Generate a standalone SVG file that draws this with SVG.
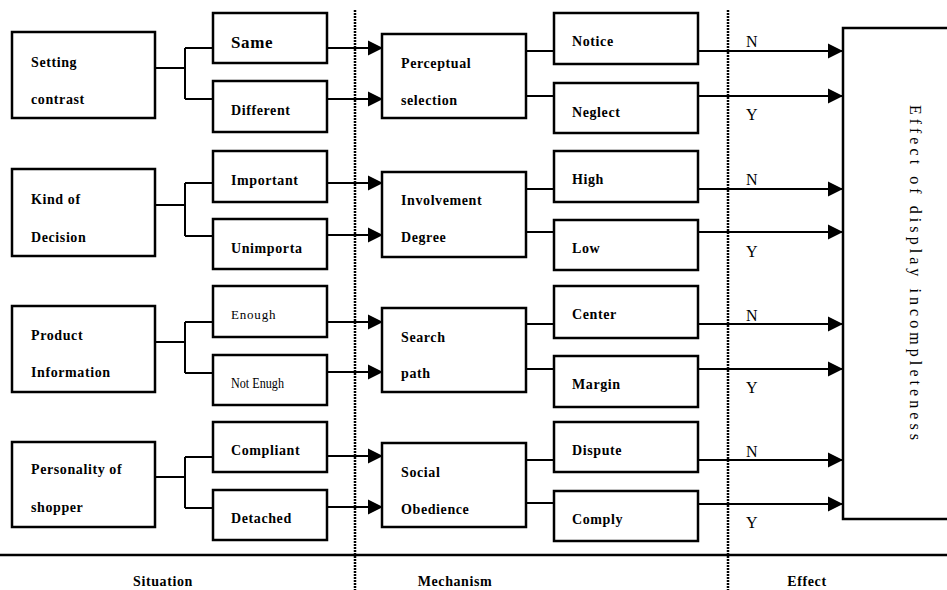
<svg xmlns="http://www.w3.org/2000/svg" width="947" height="590" viewBox="0 0 947 590">
<style>
.box{fill:#fff;stroke:#000;stroke-width:2.5}
.ln{fill:none;stroke:#000;stroke-width:2}
.ar{fill:none;stroke:#000;stroke-width:2;marker-end:url(#ah)}
.dot{fill:none;stroke:#000;stroke-width:2.5;stroke-dasharray:2 1}
.b{font-family:"Liberation Serif","Times New Roman",serif;font-weight:bold;font-size:14px;letter-spacing:0.6px;fill:#000}
.r{font-family:"Liberation Serif","Times New Roman",serif;font-size:13px;letter-spacing:0.8px;fill:#000}
.yn{font-family:"Liberation Serif","Times New Roman",serif;font-size:16px;fill:#000}
.vt{font-family:"Liberation Serif","Times New Roman",serif;font-size:16px;fill:#000}
</style>
<defs>
<marker id="ah" markerUnits="userSpaceOnUse" markerWidth="16" markerHeight="16" viewBox="0 0 16 16" refX="15" refY="8" orient="auto">
<path d="M0,0.5 L15,8 L0,15.5 z" fill="#000"/>
</marker>
</defs>
<rect width="947" height="590" fill="#fff"/>

<g id="dividers">
<line class="dot" x1="355" y1="10" x2="355" y2="590"/>
<line class="dot" x1="728" y1="10" x2="728" y2="590"/>
<line x1="0" y1="555" x2="947" y2="555" stroke="#000" stroke-width="2.5"/>
</g>

<g id="connectors">
<path class="ln" d="M155,68 H185 M185,48 V99 M185,48 H213 M185,99 H213"/>
<path class="ln" d="M155,205 H185 M185,183 V236 M185,183 H213 M185,236 H213"/>
<path class="ln" d="M155,342 H185 M185,322 V373 M185,322 H213 M185,373 H213"/>
<path class="ln" d="M155,477 H185 M185,457 V508 M185,457 H213 M185,508 H213"/>
<line class="ar" x1="327" y1="48" x2="383" y2="48"/>
<line class="ar" x1="327" y1="99" x2="383" y2="99"/>
<line class="ar" x1="327" y1="183" x2="383" y2="183"/>
<line class="ar" x1="327" y1="235" x2="383" y2="235"/>
<line class="ar" x1="327" y1="322" x2="383" y2="322"/>
<line class="ar" x1="327" y1="372" x2="383" y2="372"/>
<line class="ar" x1="327" y1="456" x2="383" y2="456"/>
<line class="ar" x1="327" y1="507" x2="383" y2="507"/>
<path class="ln" d="M526,51 H554 M526,96 H554 M526,189 H554 M526,232 H554 M526,324 H554 M526,369 H554 M526,460 H554 M526,503 H554"/>
<line class="ar" x1="698" y1="51" x2="843" y2="51"/>
<line class="ar" x1="698" y1="96" x2="843" y2="96"/>
<line class="ar" x1="698" y1="189" x2="843" y2="189"/>
<line class="ar" x1="698" y1="232" x2="843" y2="232"/>
<line class="ar" x1="698" y1="324" x2="843" y2="324"/>
<line class="ar" x1="698" y1="369" x2="843" y2="369"/>
<line class="ar" x1="698" y1="460" x2="843" y2="460"/>
<line class="ar" x1="698" y1="504" x2="843" y2="504"/>
<text class="yn" x="746" y="47">N</text>
<text class="yn" x="746" y="120">Y</text>
<text class="yn" x="746" y="185">N</text>
<text class="yn" x="746" y="257">Y</text>
<text class="yn" x="746" y="321">N</text>
<text class="yn" x="746" y="393">Y</text>
<text class="yn" x="746" y="457">N</text>
<text class="yn" x="746" y="528">Y</text>
</g>

<g id="setting-contrast"><rect class="box" x="12" y="32" width="143" height="86"/><text class="b" x="31" y="67">Setting</text><text class="b" x="31" y="104">contrast</text></g>
<g id="kind-of-decision"><rect class="box" x="12" y="169" width="143" height="87"/><text class="b" x="31" y="204">Kind of</text><text class="b" x="31" y="242">Decision</text></g>
<g id="product-information"><rect class="box" x="12" y="306" width="143" height="86"/><text class="b" x="31" y="340">Product</text><text class="b" x="31" y="377">Information</text></g>
<g id="personality-of-shopper"><rect class="box" x="12" y="442" width="143" height="85"/><text class="b" x="31" y="474">Personality of</text><text class="b" x="31" y="512">shopper</text></g>

<g id="same"><rect class="box" x="213" y="13" width="114" height="50"/><text class="b" x="231" y="48" style="font-size:17px">Same</text></g>
<g id="different"><rect class="box" x="213" y="81" width="114" height="51"/><text class="b" x="231" y="115">Different</text></g>
<g id="important"><rect class="box" x="213" y="151" width="114" height="51"/><text class="b" x="231" y="185">Important</text></g>
<g id="unimporta"><rect class="box" x="213" y="219" width="114" height="50"/><text class="b" x="231" y="253">Unimporta</text></g>
<g id="enough"><rect class="box" x="213" y="286" width="114" height="51"/><text class="r" x="231" y="319">Enough</text></g>
<g id="not-enough"><rect class="box" x="213" y="355" width="114" height="50"/><text class="r" x="231" y="388" style="letter-spacing:0;font-size:14px" textLength="53" lengthAdjust="spacingAndGlyphs">Not Enugh</text></g>
<g id="compliant"><rect class="box" x="213" y="422" width="114" height="50"/><text class="b" x="231" y="455">Compliant</text></g>
<g id="detached"><rect class="box" x="213" y="490" width="114" height="50"/><text class="b" x="231" y="523">Detached</text></g>

<g id="perceptual-selection"><rect class="box" x="382" y="34" width="144" height="84"/><text class="b" x="401" y="68">Perceptual</text><text class="b" x="401" y="105">selection</text></g>
<g id="involvement-degree"><rect class="box" x="382" y="172" width="144" height="85"/><text class="b" x="401" y="205">Involvement</text><text class="b" x="401" y="242">Degree</text></g>
<g id="search-path"><rect class="box" x="382" y="308" width="144" height="84"/><text class="b" x="401" y="342">Search</text><text class="b" x="401" y="378">path</text></g>
<g id="social-obedience"><rect class="box" x="382" y="443" width="144" height="84"/><text class="b" x="401" y="477">Social</text><text class="b" x="401" y="514">Obedience</text></g>

<g id="notice"><rect class="box" x="554" y="13" width="144" height="51"/><text class="b" x="572" y="46">Notice</text></g>
<g id="neglect"><rect class="box" x="554" y="83" width="144" height="50"/><text class="b" x="572" y="117">Neglect</text></g>
<g id="high"><rect class="box" x="554" y="151" width="144" height="51"/><text class="b" x="572" y="184">High</text></g>
<g id="low"><rect class="box" x="554" y="220" width="144" height="50"/><text class="b" x="572" y="253">Low</text></g>
<g id="center"><rect class="box" x="554" y="286" width="144" height="52"/><text class="b" x="572" y="319">Center</text></g>
<g id="margin"><rect class="box" x="554" y="356" width="144" height="51"/><text class="b" x="572" y="389">Margin</text></g>
<g id="dispute"><rect class="box" x="554" y="422" width="144" height="50"/><text class="b" x="572" y="455">Dispute</text></g>
<g id="comply"><rect class="box" x="554" y="491" width="144" height="50"/><text class="b" x="572" y="524">Comply</text></g>

<g id="effect-box"><rect class="box" x="843" y="28" width="110" height="491"/>
<text class="vt" transform="translate(910,105) rotate(90)" textLength="335" lengthAdjust="spacing">Effect of display incompleteness</text></g>

<g id="section-labels">
<text class="b" x="163" y="586" text-anchor="middle">Situation</text>
<text class="b" x="455" y="586" text-anchor="middle">Mechanism</text>
<text class="b" x="807" y="586" text-anchor="middle">Effect</text>
</g>
</svg>
